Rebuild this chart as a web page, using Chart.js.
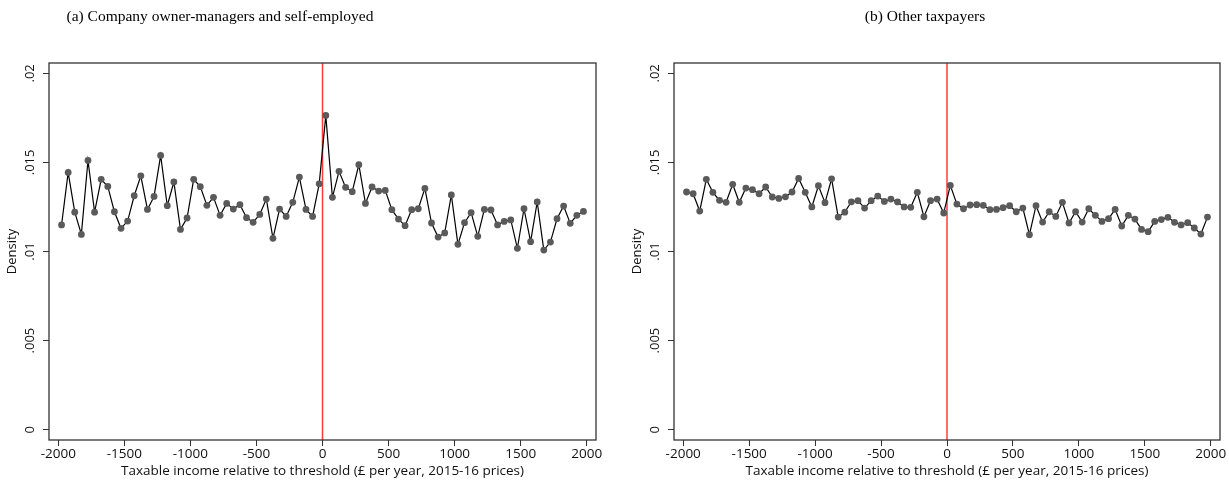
<!DOCTYPE html>
<html>
<head>
<meta charset="utf-8">
<script src="https://cdn.jsdelivr.net/npm/chart.js@4.4.0/dist/chart.umd.min.js"></script>
<style>
  html, body { margin: 0; padding: 0; background: #fff; }
  #wrap { position: relative; width: 1229px; height: 480px; overflow: hidden; }
  .pane { position: absolute; top: 0; height: 480px; }
</style>
</head>
<body>
<div id="wrap">
  <div class="pane" id="paneA" style="left:0;width:612px"><canvas id="chartA" width="612" height="480"></canvas></div>
  <div class="pane" id="paneB" style="left:612px;width:617px"><canvas id="chartB" width="617" height="480"></canvas></div>
</div>
<script>
// ---- Data ----
const binCentres = [
  -1975,-1925,-1875,-1825,-1775,-1725,-1675,-1625,-1575,-1525,
  -1475,-1425,-1375,-1325,-1275,-1225,-1175,-1125,-1075,-1025,
  -975,-925,-875,-825,-775,-725,-675,-625,-575,-525,
  -475,-425,-375,-325,-275,-225,-175,-125,-75,-25,
  25,75,125,175,225,275,325,375,425,475,
  525,575,625,675,725,775,825,875,925,975,
  1025,1075,1125,1175,1225,1275,1325,1375,1425,1475,
  1525,1575,1625,1675,1725,1775,1825,1875,1925,1975
];
const densityOwners = [
  0.01149,0.01444,0.01221,0.01096,0.01511,0.01221,0.01405,0.01365,0.01223,0.01130,
  0.01171,0.01313,0.01425,0.01236,0.01309,0.01539,0.01257,0.01390,0.01124,0.01188,
  0.01405,0.01364,0.01259,0.01304,0.01203,0.01270,0.01238,0.01263,0.01190,0.01164,
  0.01208,0.01294,0.01074,0.01238,0.01197,0.01276,0.01418,0.01236,0.01197,0.01380,
  0.01764,0.01304,0.01450,0.01360,0.01336,0.01487,0.01270,0.01362,0.01339,0.01343,
  0.01235,0.01182,0.01145,0.01235,0.01240,0.01354,0.01160,0.01081,0.01104,0.01317,
  0.01040,0.01162,0.01218,0.01085,0.01236,0.01233,0.01149,0.01169,0.01177,0.01018,
  0.01240,0.01055,0.01278,0.01008,0.01053,0.01184,0.01255,0.01158,0.01203,0.01225
];
const densityOthers = [
  0.01334,0.01324,0.01227,0.01405,0.01332,0.01287,0.01276,0.01377,0.01276,0.01356,
  0.01347,0.01324,0.01362,0.01306,0.01298,0.01307,0.01334,0.01410,0.01332,0.01250,
  0.01369,0.01274,0.01408,0.01193,0.01221,0.01279,0.01285,0.01244,0.01285,0.01311,
  0.01281,0.01294,0.01278,0.01250,0.01248,0.01332,0.01195,0.01285,0.01294,0.01216,
  0.01371,0.01266,0.01240,0.01261,0.01263,0.01259,0.01235,0.01236,0.01246,0.01257,
  0.01223,0.01244,0.01094,0.01257,0.01165,0.01223,0.01197,0.01276,0.01160,0.01223,
  0.01165,0.01240,0.01203,0.01169,0.01184,0.01236,0.01143,0.01203,0.01182,0.01124,
  0.01111,0.01169,0.01179,0.01192,0.01164,0.01149,0.01162,0.01132,0.01098,0.01193
];
const xTickValues = [-2000,-1500,-1000,-500,0,500,1000,1500,2000];
const xTickLabels = ['-2000','-1500','-1000','-500','0','500','1000','1500','2000'];
const yTickValues = [0,0.005,0.01,0.015,0.02];
const yTickLabels = ['0','.005','.01','.015','.02'];
const thresholdX = [0, 0];
const thresholdY = [-0.00058, 0.02058];
const titleA = '(a) Company owner-managers and self-employed';
const titleB = '(b) Other taxpayers';
const xTitle = 'Taxable income relative to threshold (£ per year, 2015-16 prices)';
const yTitle = 'Density';

// ---- Rendering ----
const SANS = '"Open Sans", "Noto Sans", "DejaVu Sans", sans-serif';
const SERIF = '"Liberation Serif", "DejaVu Serif", serif';

const decoPlugin = {
  id: 'deco',
  afterDatasetsDraw(chart, args, o) {
    const ctx = chart.ctx, a = chart.chartArea;
    ctx.save();
    ctx.strokeStyle = '#333';
    ctx.lineWidth = 1.3;
    ctx.strokeRect(a.left, a.top, a.right - a.left, a.bottom - a.top);
    ctx.restore();
  },
  afterDraw(chart, args, o) {
    const ctx = chart.ctx, a = chart.chartArea, ys = chart.scales.y;
    ctx.save();
    ctx.fillStyle = '#111';
    ctx.font = '13px ' + SANS;
    ctx.textAlign = 'center';
    ctx.textBaseline = 'middle';
    yTickValues.forEach((v, i) => {
      const py = ys.getPixelForValue(v);
      ctx.save();
      ctx.translate(a.left - o.tickLabelGap, py);
      ctx.rotate(-Math.PI / 2);
      ctx.fillText(yTickLabels[i], 0, 0);
      ctx.restore();
    });
    ctx.save();
    ctx.translate(a.left - o.yTitleGap, (a.top + a.bottom) / 2);
    ctx.rotate(-Math.PI / 2);
    ctx.fillText(yTitle, 0, 0);
    ctx.restore();
    ctx.font = '15.5px ' + SERIF;
    ctx.fillStyle = '#000';
    ctx.textBaseline = 'alphabetic';
    ctx.fillText(o.title, o.titleX, o.titleY);
    ctx.restore();
  }
};

function makeChart(id, values, title, titleX, padLeft, padRight) {
  return new Chart(document.getElementById(id), {
    type: 'scatter',
    data: {
      datasets: [
        {
          data: thresholdX.map((x, i) => ({ x: x, y: thresholdY[i] })),
          showLine: true,
          borderColor: '#ff3b3b',
          borderWidth: 1.5,
          pointRadius: 0,
          order: 2
        },
        {
          data: binCentres.map((x, i) => ({ x: x, y: values[i] })),
          showLine: true,
          borderColor: '#000',
          borderWidth: 1.2,
          pointRadius: 3.4,
          pointBackgroundColor: '#5a5a5a',
          pointBorderWidth: 0,
          tension: 0,
          order: 1
        }
      ]
    },
    options: {
      responsive: false,
      animation: false,
      devicePixelRatio: 1,
      layout: { padding: { left: padLeft, right: padRight, top: 63, bottom: 0 } },
      plugins: {
        legend: { display: false },
        tooltip: { enabled: false },
        deco: { title: title, titleX: titleX, titleY: 21, tickLabelGap: 19, yTitleGap: 37 }
      },
      scales: {
        x: {
          type: 'linear',
          min: -2070,
          max: 2070,
          afterBuildTicks: s => { s.ticks = xTickValues.map(v => ({ value: v })); },
          afterFit: s => { s.height = 40; },
          border: { display: false },
          grid: { display: true, drawOnChartArea: false, drawTicks: true, tickLength: 6, color: '#333', lineWidth: 1 },
          ticks: {
            color: '#111', font: { family: SANS, size: 13.5 }, padding: 0, maxRotation: 0, minRotation: 0,
            callback: v => xTickLabels[xTickValues.indexOf(v)]
          },
          title: { display: true, text: xTitle, color: '#111', font: { family: SANS, size: 13.5 }, padding: { top: 0, bottom: 1 } }
        },
        y: {
          type: 'linear',
          min: -0.00058,
          max: 0.02058,
          afterBuildTicks: s => { s.ticks = yTickValues.map(v => ({ value: v })); },
          afterFit: s => { s.width = 49; },
          border: { display: false },
          grid: { display: true, drawOnChartArea: false, drawTicks: true, tickLength: 6, color: '#333', lineWidth: 1 },
          ticks: { color: 'rgba(0,0,0,0)', font: { family: SANS, size: 12 } }
        }
      }
    },
    plugins: [decoPlugin]
  });
}

makeChart('chartA', densityOwners, titleA, 220, 0, 16);
makeChart('chartB', densityOthers, titleB, 313, 13, 9);
</script>
</body>
</html>
